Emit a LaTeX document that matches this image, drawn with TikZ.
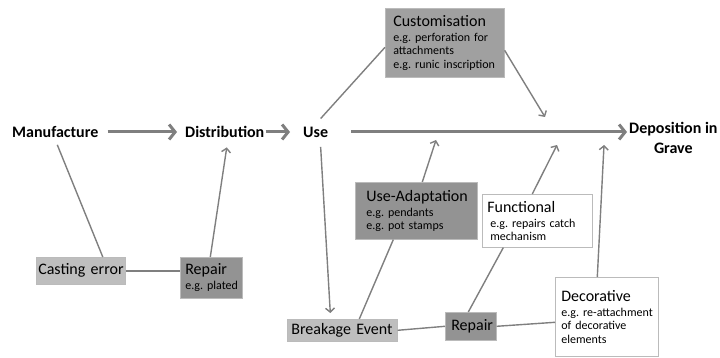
\documentclass[tikz,border=0pt]{standalone}
\usepackage{fontspec}
\setmainfont{Carlito}
\usetikzlibrary{arrows.meta}
\definecolor{linegray}{HTML}{7F7F7F}
\definecolor{boxline}{HTML}{BBBBBB}
\definecolor{lightfill}{HTML}{BEBEBE}
\definecolor{midfill}{HTML}{A0A0A0}
\definecolor{darkfill}{HTML}{939393}
\newcommand\titlefont{\fontsize{16}{19}\selectfont}
\newcommand\notefont{\fontsize{12}{13.4}\selectfont}
\tikzset{
	stage/.style={anchor=west, inner sep=0pt, font=\bfseries\titlefont},
	box/.style={draw=boxline, line width=0.6pt, anchor=north west, align=left, inner xsep=5pt, inner ysep=0pt, font=\notefont, text=black,
		execute at begin node={\frenchspacing\hyphenpenalty=10000\exhyphenpenalty=10000\rightskip=-8pt plus 1fil\relax}},
	link/.style={draw=linegray, line width=1.4pt},
	thinarrow/.style={link, -{Straight Barb[length=4pt,width=9pt]}},
	mainarrow/.style={draw=linegray, line width=3pt, -{Straight Barb[length=6pt,width=15pt]}}
}

\begin{document}
\begin{tikzpicture}[x=1pt, y=-1pt]
		%%%%% START %%%%%
		\useasboundingbox (0,0) rectangle (720,358);
		
		\node[stage] (man) at (12,132) {Manufacture};
		\node[stage] (dist) at (185,132) {Distribution};
		\node[stage] (use) at (303,132) {Use};
		\node[stage, align=center, font=\bfseries\fontsize{16}{20}\selectfont] (dep) at (629,138) {Deposition in\\Grave};
		
		\node[box, fill=midfill, inner xsep=8pt, text width=103pt, minimum height=69pt] (cust) at (385,8) {{\titlefont Customisation}\\[1.6pt]e.g. perforation for\\attachments\\e.g. runic inscription};
		\node[box, fill=darkfill, inner xsep=11pt, text width=100pt, minimum height=57pt] (ua) at (355,182) {{\titlefont Use-Adaptation}\\[1.6pt]e.g. pendants\\e.g. pot stamps};
		\node[box, fill=white, inner xsep=5pt, text width=100pt, minimum height=53pt] (func) at (482,194) {{\titlefont Functional}\\[1.6pt]\hspace*{3pt}e.g. repairs catch\\\hspace*{3pt}mechanism};
		\node[box, fill=white, inner xsep=6pt, text width=91pt, minimum height=79pt] (deco) at (555,277) {{\titlefont Decorative}\\[1.6pt]e.g. re-attachment\\of decorative\\elements};
		
		\node[box, fill=lightfill, inner xsep=2pt, text width=85pt, minimum height=27pt, font=\titlefont] (cast) at (36,257) {Casting error};
		\node[box, fill=darkfill, inner xsep=5pt, text width=52pt, minimum height=41pt] (rep1) at (180,257) {{\titlefont Repair}\\[1.6pt]e.g. plated};
		\node[box, fill=lightfill, inner xsep=4pt, text width=102pt, minimum height=22pt, font=\titlefont] (brk) at (287,319) {Breakage Event};
		\node[box, fill=darkfill, inner xsep=6pt, text width=39pt, minimum height=28pt, font=\titlefont] (rep2) at (445,312) {Repair};
		
		\coordinate (custtip) at (545,117);
		\coordinate (uatip) at (436,140);
		\coordinate (functip) at (557,145);
		\coordinate (decotip) at (604,145);
		
		% main line
		\draw[mainarrow, shorten <=9pt, shorten >=8pt] (man.east) -- (dist.west);
		\draw[mainarrow, shorten <=1pt, shorten >=13pt] (dist.east) -- (use.west);
		\draw[mainarrow, shorten <=23pt, shorten >=2pt] (use.east) -- (use.east -| dep.west);
		
		% manufacture side
		\draw[link] ([xshift=2pt,yshift=-7pt]man.south) -- ([xshift=22pt]cast.north);
		\draw[link] (cast.east) -- (cast.east -| rep1.west);
		\draw[thinarrow] ([xshift=-1pt]rep1.north) -- ([xshift=2pt,yshift=-9.5pt]dist.south);
		
		% use side
		\draw[link] ([xshift=5pt,yshift=8pt]use.north) -- ([yshift=-4.5pt]cust.west);
		\draw[thinarrow] ([yshift=-7.5pt]cust.east) -- (custtip);
		\draw[thinarrow] ([xshift=5pt,yshift=-9.5pt]use.south) -- ([xshift=-12pt,yshift=6pt]brk.north);
		\draw[link] ([xshift=17pt]brk.north) -- ([xshift=-23pt]ua.south);
		\draw[thinarrow] ([xshift=6pt]ua.north) -- (uatip);
		\draw[link] (brk.east) -- (rep2.west);
		\draw[link] (rep2.east) -- ([yshift=-5.5pt]deco.west);
		\draw[link] ([xshift=-2.5pt]rep2.north) -- ([xshift=-34pt]func.south);
		\draw[thinarrow] ([xshift=-5pt]func.north) -- (functip);
		\draw[thinarrow] ([xshift=-9.5pt]deco.north) -- (decotip);
		
		%%%%% END %%%%%
	\end{tikzpicture}
\end{document}
